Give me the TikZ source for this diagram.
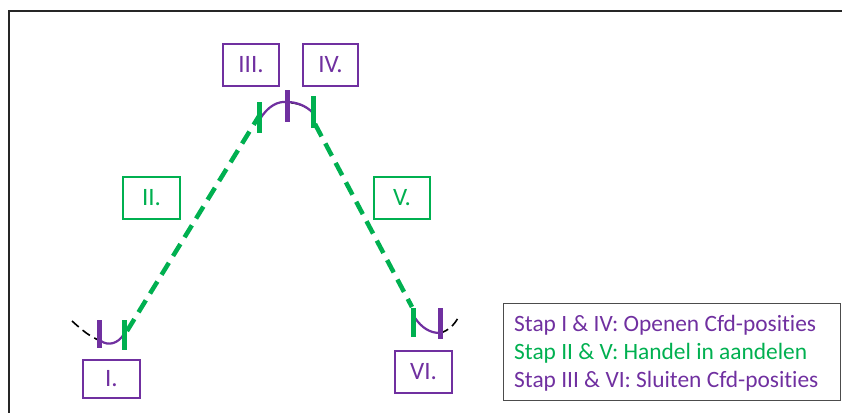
\documentclass[tikz,border=0pt]{standalone}
\usepackage{fontspec}
\setmainfont[RawFeature=-liga]{Carlito}
\definecolor{cpurple}{HTML}{7030A0}
\definecolor{cgreen}{HTML}{00B050}
\begin{document}
\begin{tikzpicture}[x=1pt,y=-1pt,
  lbl/.style={draw,line width=1.6pt,inner sep=0pt,font=\fontsize{25}{30}\selectfont},
  pbox/.style={lbl,draw=cpurple,text=cpurple},
  gbox/.style={lbl,draw=cgreen,text=cgreen},
  pbar/.style={draw=cpurple,line width=5pt},
  gbar/.style={draw=cgreen,line width=5pt},
  parc/.style={draw=cpurple,line width=2.2pt},
  gdash/.style={draw=cgreen,line width=4.5pt,dash pattern=on 14pt off 8pt},
  kdash/.style={draw=black,line width=1.6pt,dash pattern=on 9pt off 5pt},
  legtxt/.style={anchor=west,font=\fontsize{23.4}{28}\selectfont,inner sep=0pt}]
\useasboundingbox (0,0) rectangle (842,412);
% frame
\draw[line width=2pt,black!85] (9,414) -- (9,11) -- (845,11);
% labels
\node[pbox,minimum width=57pt,minimum height=38pt] (n1) at (111.5,379) {I.};
\node[gbox,minimum width=57pt,minimum height=42pt] (n2) at (151.5,198) {II.};
\node[pbox,minimum width=56pt,minimum height=42pt] (n3) at (251,65) {III.};
\node[pbox,minimum width=55pt,minimum height=42pt] (n4) at (330.5,65) {IV.};
\node[gbox,minimum width=56pt,minimum height=42pt] (n5) at (402,198) {V.};
\node[pbox,minimum width=57pt,minimum height=42pt] (n6) at (423.5,372) {VI.};
% legend
\node[draw=black!70,line width=0.8pt,minimum width=337pt,minimum height=97pt,
  inner sep=0pt] (leg) at (671.5,351.5) {};
\node[legtxt,text=cpurple] (t1) at (514,325) {Stap I \& IV: Openen Cfd-posities};
\node[legtxt,text=cgreen] (t2) at (514,353) {Stap II \& V: Handel in aandelen};
\node[legtxt,text=cpurple] (t3) at (514,381) {Stap III \& VI: Sluiten Cfd-posities};
% coordinates
\coordinate (a0) at (72,321);
\coordinate (a1) at (101,341);
\coordinate (a2) at (124,334);
\coordinate (b0) at (260,119);
\coordinate (b1) at (287,102);
\coordinate (b2) at (312,112);
\coordinate (c0) at (415,318);
\coordinate (c1) at (440,333);
\coordinate (c2) at (458,318);
% black dashed continuations
\draw[kdash] (a0) .. controls (82,330) and (90,337) .. (a1);
\draw[kdash] (c1) .. controls (448,331) and (454,325) .. (c2);
\draw[black,line width=1.2pt] (291,103) .. controls (300,104) and (307,107) .. (b2);
% purple arcs
\draw[parc] (a1) .. controls (108,346) and (118,344) .. (a2);
\draw[parc] (b0) .. controls (268,106) and (278,101) .. (b1) .. controls (297,102) and (306,106) .. (b2);
\draw[parc] (c0) .. controls (422,328) and (430,333) .. (c1);
% green dashed lines
\coordinate (g1a) at (127,331);
\coordinate (g1b) at (259,116);
\coordinate (g2a) at (315,124);
\coordinate (g2b) at (412,307);
\draw[gdash] (g1a) -- (g1b);
\draw[gdash] (g2a) -- (g2b);
% bars
\draw[pbar] (99,320) -- (99,348);
\draw[gbar] (124,320) -- (124,350);
\draw[gbar] (259,102) -- (259,133);
\draw[pbar] (287,90) -- (287,122);
\draw[gbar] (313,96) -- (313,128);
\draw[gbar] (413,308) -- (413,337);
\draw[pbar] (440,308) -- (440,339);
\end{tikzpicture}
\end{document}
